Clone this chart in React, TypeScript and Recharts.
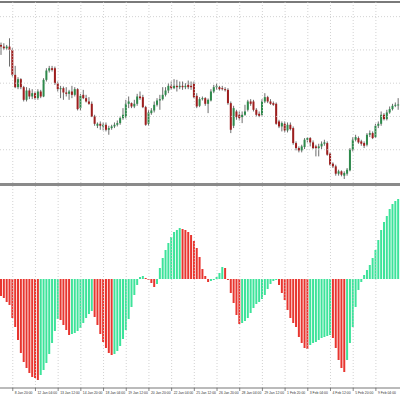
import React from 'react';
import { ComposedChart, Bar, XAxis, YAxis, ReferenceLine, Cell } from 'recharts';

// H4 bars, price in points above the bottom of the price window
const OPEN = [
  415, 410, 405, 410, 400, 325, 288, 312, 288, 250,
  278, 260, 270, 255, 275, 260, 310, 338, 345, 345,
  300, 282, 285, 272, 268, 275, 265, 282, 225, 265,
  255, 245, 238, 200, 172, 178, 170, 175, 160, 165,
  170, 175, 180, 195, 198, 238, 240, 230, 238, 260,
  258, 228, 178, 210, 218, 235, 248, 252, 265, 278,
  292, 285, 292, 288, 292, 288, 295, 292, 298, 262,
  232, 252, 255, 238, 248, 275, 288, 288, 285, 282,
  280, 240, 172, 215, 205, 198, 205, 220, 245, 245,
  220, 208, 205, 245, 258, 245, 240, 238, 185, 170,
  178, 158, 175, 165, 120, 105, 98, 108, 130, 135,
  122, 110, 105, 110, 118, 120, 88, 58, 50, 28,
  35, 22, 28, 38, 100, 130, 135, 125, 120, 115,
  145, 150, 138, 172, 178, 205, 192, 212, 222, 232,
  235,
];
const HIGH = [
  422, 420, 415, 435, 405, 352, 318, 315, 292, 288,
  285, 282, 275, 282, 280, 315, 345, 352, 352, 350,
  305, 292, 290, 288, 280, 292, 288, 285, 268, 280,
  265, 258, 245, 205, 182, 185, 182, 182, 172, 175,
  182, 188, 200, 225, 250, 260, 242, 250, 268, 275,
  265, 232, 220, 225, 245, 255, 265, 288, 288, 300,
  305, 312, 310, 305, 305, 300, 308, 305, 305, 270,
  258, 260, 258, 254, 282, 295, 300, 292, 292, 288,
  285, 245, 232, 220, 215, 215, 235, 250, 252, 250,
  225, 215, 252, 270, 262, 252, 245, 242, 190, 185,
  185, 182, 182, 170, 125, 110, 115, 135, 138, 138,
  128, 115, 118, 125, 130, 125, 92, 62, 55, 40,
  38, 35, 45, 105, 138, 145, 140, 130, 125, 150,
  158, 155, 178, 185, 215, 210, 220, 230, 238, 242,
  255,
];
const LOW = [
  385, 400, 400, 350, 320, 285, 282, 282, 245, 245,
  252, 252, 250, 250, 255, 258, 305, 332, 335, 295,
  275, 255, 250, 260, 250, 255, 260, 218, 218, 252,
  242, 235, 198, 172, 165, 160, 158, 155, 145, 160,
  165, 170, 175, 190, 194, 225, 225, 225, 232, 250,
  225, 172, 172, 205, 212, 230, 220, 248, 260, 270,
  280, 282, 275, 282, 280, 282, 282, 280, 255, 225,
  228, 248, 232, 210, 245, 270, 280, 278, 278, 275,
  235, 150, 165, 190, 188, 180, 202, 215, 232, 215,
  200, 198, 202, 240, 240, 235, 232, 175, 165, 155,
  152, 152, 158, 115, 98, 92, 92, 102, 122, 110,
  102, 80, 80, 102, 112, 82, 52, 45, 22, 22,
  20, 12, 22, 35, 95, 125, 118, 112, 105, 110,
  138, 132, 135, 165, 172, 188, 188, 208, 218, 228,
  220,
];
const CLOSE = [
  410, 405, 410, 400, 325, 288, 312, 288, 250, 278,
  260, 270, 255, 275, 260, 310, 338, 345, 340, 300,
  282, 285, 272, 268, 275, 265, 282, 222, 262, 255,
  245, 238, 200, 178, 178, 172, 175, 160, 165, 170,
  175, 180, 195, 205, 238, 245, 230, 238, 260, 255,
  228, 175, 212, 218, 235, 248, 252, 265, 278, 292,
  285, 292, 288, 292, 288, 292, 288, 288, 258, 230,
  252, 255, 238, 250, 275, 288, 292, 282, 282, 280,
  240, 160, 225, 198, 195, 205, 215, 245, 238, 220,
  205, 202, 245, 258, 245, 238, 235, 178, 170, 180,
  158, 175, 162, 120, 105, 98, 110, 130, 135, 122,
  105, 105, 110, 118, 122, 85, 55, 50, 28, 35,
  25, 30, 40, 100, 130, 138, 122, 118, 112, 145,
  150, 135, 172, 178, 205, 192, 212, 222, 232, 235,
  236,
];
// oscillator histogram, one value per bar
const OSMA = [
  -17, -19, -23, -26, -39, -48, -61, -74, -83, -89,
  -94, -98, -99, -101, -96, -91, -84, -75, -64, -52,
  -40, -41, -46, -51, -56, -55, -54, -52, -49, -44,
  -39, -35, -32, -38, -46, -55, -63, -69, -74, -76,
  -75, -72, -67, -60, -51, -40, -28, -16, -6, 2,
  3, 1, -1, -4, -8, -5, 11, 21, 29, 36,
  42, 47, 49, 51, 50, 49, 47, 44, 38, 31,
  22, 10, 3, -3, -2, -1, 2, 6, 12, 11,
  -1, -14, -24, -36, -45, -44, -42, -39, -34, -29,
  -25, -23, -20, -16, -10, -5, -2, -1, -6, -14,
  -21, -31, -39, -44, -48, -58, -64, -69, -70, -66,
  -64, -63, -61, -59, -58, -57, -56, -59, -69, -81,
  -89, -93, -81, -64, -48, -28, -11, -3, 4, 9,
  14, 21, 29, 39, 49, 57, 63, 70, 75, 78,
  80,
];
const TICK_LABELS = [
  '8 Jan 20:00', '12 Jan 04:00', '13 Jan 12:00', '14 Jan 20:00', '18 Jan 04:00',
  '19 Jan 12:00', '20 Jan 20:00', '22 Jan 04:00', '25 Jan 12:00', '26 Jan 20:00',
  '28 Jan 04:00', '29 Jan 12:00', '1 Feb 20:00', '3 Feb 04:00', '4 Feb 12:00',
  '5 Feb 20:00', '9 Feb 04:00',
];
const FIRST_TICK_BAR = 4;
const BARS_PER_TICK = 8;
const PRICE_GRID = [100, 200, 300, 400, 500];

const BULL = '#2e8a4c';
const BEAR = '#9e1e1e';
const WICK = '#5c5c5c';
const UP = '#3de39a';
const DOWN = '#e8352f';
const GRID = '#c6c6c6';
const FONT = '"Liberation Sans", Arial, sans-serif';

const candles = OPEN.map((open, i) => ({
  t: i, open, high: HIGH[i], low: LOW[i], close: CLOSE[i], range: [LOW[i], HIGH[i]],
}));
const osma = OSMA.map((v, i) => ({ t: i, v }));
const tickBars = TICK_LABELS.map((_, k) => FIRST_TICK_BAR + k * BARS_PER_TICK);

function Candle(props: any) {
  const { x, y, width, height, payload } = props;
  const top = Math.min(y, y + height);
  const h = Math.abs(height);
  const { open, close, high, low } = payload;
  const k = high === low ? 0 : h / (high - low);
  const bodyTop = top + (high - Math.max(open, close)) * k;
  const bodyH = Math.max(1, Math.abs(open - close) * k);
  const cx = x + width / 2;
  return (
    <g>
      <line x1={cx} x2={cx} y1={top} y2={top + h} stroke={WICK} strokeWidth={0.9} />
      <rect x={cx - 1} y={bodyTop} width={2} height={bodyH} fill={close >= open ? BULL : BEAR} />
    </g>
  );
}

function TimeTick(props: any) {
  const { x, y, payload } = props;
  const k = tickBars.indexOf(payload.value);
  if (k < 0) return <g />;
  return (
    <g>
      <line x1={x} x2={x} y1={y} y2={y + 3} stroke="#666" strokeWidth={0.8} />
      <text x={x + 2} y={y + 6} fontSize={3.4} fill="#333" fontFamily={FONT}>{TICK_LABELS[k]}</text>
    </g>
  );
}

const vGrid = (top: boolean) => tickBars.map((b) => (
  <ReferenceLine key={(top ? 'a' : 'b') + b} x={b} stroke={GRID} strokeDasharray="1 2" strokeWidth={0.8} />
));

export default function App() {
  return (
    <div style={{ position: 'fixed', left: 0, top: 0, width: 400, height: 400, background: '#fff', overflow: 'hidden' }}>
      <div style={{ position: 'absolute', left: 0, top: 0.5, width: 400, height: 2, background: '#7a7a7a' }} />
      <div style={{ position: 'absolute', left: 0, top: 0 }}>
        <ComposedChart width={400} height={184} data={candles} margin={{ top: 2, right: 0, bottom: 1, left: 0 }}>
          <XAxis dataKey="t" hide />
          <YAxis hide domain={[0, 544]} />
          {PRICE_GRID.map((p) => (
            <ReferenceLine key={p} y={p} stroke={GRID} strokeDasharray="1 2" strokeWidth={0.8} />
          ))}
          {vGrid(true)}
          <Bar dataKey="range" barSize={2} shape={Candle} isAnimationActive={false} />
        </ComposedChart>
      </div>
      <div style={{ position: 'absolute', left: 0, top: 182.5, width: 400, height: 3, background: '#8a8a8a' }} />
      <div style={{ position: 'absolute', left: 0, top: 184 }}>
        <ComposedChart width={400} height={216} data={osma} margin={{ top: 2, right: 0, bottom: 0, left: 0 }}>
          <XAxis
            dataKey="t"
            ticks={tickBars}
            interval={0}
            height={12}
            tickSize={0}
            tickMargin={0}
            tickLine={false}
            axisLine={{ stroke: '#777' }}
            tick={TimeTick}
          />
          <YAxis hide domain={[-109, 93]} />
          {vGrid(false)}
          <Bar dataKey="v" barSize={2} isAnimationActive={false}>
            {osma.map((d, i) => (
              <Cell key={i} fill={i > 0 && d.v > OSMA[i - 1] ? UP : DOWN} />
            ))}
          </Bar>
        </ComposedChart>
      </div>
    </div>
  );
}
